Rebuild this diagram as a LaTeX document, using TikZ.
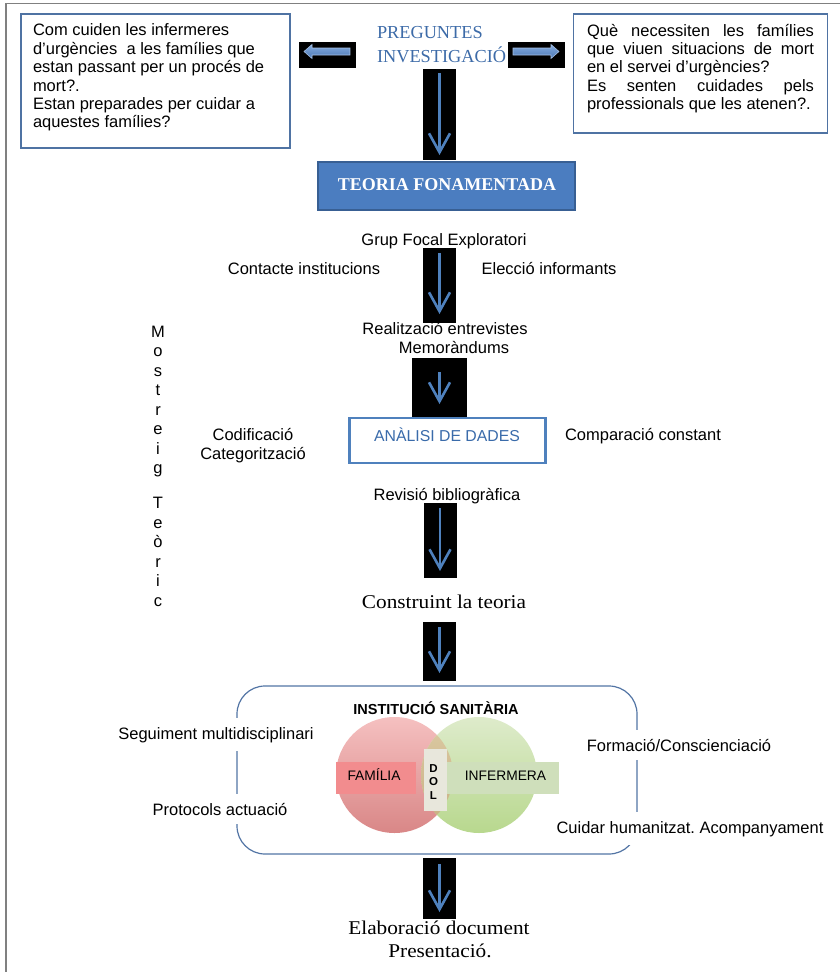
\documentclass[tikz,border=0pt]{standalone}
\usepackage{fontspec}
\setmainfont{Liberation Sans}
\newfontfamily\capserif{Liberation Serif}
\newfontfamily\wideserif{Liberation Serif}[FakeStretch=1.09]
\usetikzlibrary{arrows.meta}
\frenchspacing

\definecolor{framegray}{HTML}{808080}
\definecolor{boxblue}{HTML}{4F73A3}
\definecolor{pregblue}{HTML}{3D6BA8}
\definecolor{teoriafill}{HTML}{4B7DC0}
\definecolor{teoriaborder}{HTML}{385F93}
\definecolor{analisiblue}{HTML}{4F81BD}
\definecolor{analisitext}{HTML}{3A6BAA}
\definecolor{arrowblue}{HTML}{4F81BD}
\definecolor{blocktop}{HTML}{86ABDD}
\definecolor{blockbot}{HTML}{4A78B6}
\definecolor{blockedge}{HTML}{A8C2E6}
\definecolor{roundblue}{HTML}{5274A4}
\definecolor{redtop}{HTML}{F5C0C0}
\definecolor{redbot}{HTML}{D98787}
\definecolor{greentop}{HTML}{DEEBCB}
\definecolor{greenbot}{HTML}{B8D88E}
\definecolor{laptop}{HTML}{DCCBA4}
\definecolor{lapbot}{HTML}{C7AD80}
\definecolor{famfill}{HTML}{F28C8E}
\definecolor{inffill}{HTML}{CFDFBB}
\definecolor{dolfill}{HTML}{E8E7DC}

\begin{document}
\begin{tikzpicture}[x=1pt,y=-1pt,
  every node/.style={inner sep=0pt, outer sep=0pt},
  txt/.style={font=\fontsize{16.5}{18.4}\selectfont, anchor=base},
  sertxt/.style={font=\wideserif\fontsize{19.5}{22}\selectfont, anchor=base},
  qbox/.style={draw=boxblue, line width=1.3pt},
  blk/.style={fill=black, minimum width=33pt},
  barrow/.style={draw=arrowblue, line width=2.6pt, -{Straight Barb[length=19pt,width=21pt]}},
  blockarrow/.style={top color=blocktop, bottom color=blockbot, draw=blockedge, line width=0.6pt},
  cover/.style={fill=white, inner xsep=2pt, inner ysep=9pt},
  lbl/.style={font=\fontsize{13.8}{15}\selectfont, anchor=base},
  dolt/.style={font=\bfseries\fontsize{11.5}{13}\selectfont, anchor=base}]

\useasboundingbox (0,0) rectangle (840,972);

% page frame (top and left edges)
\draw[framegray, line width=1.6pt] (6,972) -- (6,3.5) -- (840,3.5);

% research questions
\node[qbox, minimum width=269pt, minimum height=134pt] (qleft) at (155.5,81) {};
\node[font=\fontsize{16.5}{18.4}\selectfont, anchor=north west, align=left] (qlt) at (33,24)
  {Com cuiden les infermeres\\d’urgències\ \ a les famílies que\\estan passant per un procés de\\mort?.\\Estan preparades per cuidar a\\aquestes famílies?};
\node[qbox, minimum width=254pt, minimum height=119pt] (qright) at (700.5,73.5) {};
\node[font=\fontsize{16.5}{18.4}\selectfont, anchor=north west, align=left] (qrt) at (587,24)
  {\makebox[227pt][s]{Què necessiten les famílies}\\
   \makebox[227pt][s]{que viuen situacions de mort}\\
   en el servei d’urgències?\\
   \makebox[227pt][s]{Es senten cuidades pels}\\
   professionals que les atenen?.};

\node[font=\capserif\fontsize{18.3}{22}\selectfont, text=pregblue, anchor=base west] (preg1) at (377,38) {PREGUNTES};
\node[font=\capserif\fontsize{18.3}{22}\selectfont, text=pregblue, anchor=base west] (preg2) at (377,62) {INVESTIGACIÓ};

% side block arrows
\node[fill=black, minimum width=57pt, minimum height=26pt] (la) at (327.5,55) {};
\node[fill=black, minimum width=57pt, minimum height=26pt] (ra) at (536.5,55) {};
\path[blockarrow, shift={(la.center)}]
  (22.5,-7) -- (-15.5,-7) -- (-15.5,-10.5) -- (-23.5,-3.5) -- (-15.5,3.5) -- (-15.5,0) -- (22.5,0) -- cycle;
\path[blockarrow, shift={(ra.center)}]
  (-23.5,-7) -- (14.5,-7) -- (14.5,-10.5) -- (22.5,-3.5) -- (14.5,3.5) -- (14.5,0) -- (-23.5,0) -- cycle;

% down arrows in black boxes
\node[blk, minimum height=91pt] (d1) at (439.5,114.5) {};
\draw[barrow] ([yshift=-4pt]d1.north) -- ([yshift=5pt]d1.south);

% grounded theory
\node[draw=teoriaborder, line width=2pt, fill=teoriafill, minimum width=257pt, minimum height=48pt] (teoria) at (446.5,186) {};
\node[font=\capserif\bfseries\fontsize{18}{20}\selectfont, text=white, anchor=base] (teoriat) at (447,190) {TEORIA FONAMENTADA};

\node[txt] (grup) at (444,245) {Grup Focal Exploratori};
\node[txt] (contacte) at (304,274) {Contacte institucions};
\node[txt] (eleccio) at (549,274) {Elecció informants};
\node[blk, minimum height=75pt] (d2) at (439.5,285.5) {};
\draw[barrow] ([yshift=-5pt]d2.north) -- ([yshift=9pt]d2.south);

\node[txt] (realit) at (445,334) {Realització entrevistes};
\node[txt] (memo) at (454,353) {Memoràndums};
\node[blk, minimum width=55pt, minimum height=59pt] (d3) at (439.5,387.5) {};
\draw[barrow] ([yshift=-14pt]d3.north) -- ([yshift=13pt]d3.south);

% data analysis
\node[draw=analisiblue, line width=2.5pt, fill=white, minimum width=196pt, minimum height=45pt] (analisi) at (447.5,440.5) {};
\node[font=\fontsize{15.8}{17}\selectfont, text=analisitext, anchor=base] (analisit) at (447,441.5) {ANÀLISI DE DADES};
\node[txt] (codif) at (253,440) {Codificació};
\node[txt] (categ) at (253,459) {Categorització};
\node[txt] (compar) at (643,440) {Comparació constant};
\node[txt] (revisio) at (447,500) {Revisió bibliogràfica};

\node[blk, minimum height=75pt] (d4) at (440,540.5) {};
\draw[barrow] ([yshift=-5pt]d4.north) -- ([yshift=7pt]d4.south);

% theoretical sampling, written vertically
\foreach \ch/\yy [count=\i] in {M/337,o/356.5,s/376,t/395.5,r/415,e/434.5,i/454,g/473.5,T/508.5,e/528,ò/547.5,r/567,i/586.5,c/606}
  \node[txt] (ms\i) at (158,\yy) {\ch};

\node[sertxt] (construint) at (444,608) {Construint la teoria};
\node[blk, minimum height=59pt] (d5) at (439.5,651.5) {};
\draw[barrow] ([yshift=-5pt]d5.north) -- ([yshift=8pt]d5.south);

% health institution
\node[draw=roundblue, line width=1.2pt, rounded corners=28pt, minimum width=400pt, minimum height=168pt] (inst) at (437,770) {};
\node[font=\bfseries\fontsize{14.5}{16}\selectfont, anchor=base] (instt) at (436,714) {INSTITUCIÓ SANITÀRIA};

\path[top color=redtop, bottom color=redbot] (394.5,775) ellipse [x radius=58.5, y radius=58];
\path[top color=greentop, bottom color=greenbot] (479,775) ellipse [x radius=58, y radius=58];
\begin{scope}
  \clip (394.5,775) ellipse [x radius=58.5, y radius=58];
  \path[top color=laptop, bottom color=lapbot] (479,775) ellipse [x radius=58, y radius=58];
\end{scope}

\node[fill=famfill, minimum width=80pt, minimum height=32pt] (fam) at (376,778) {};
\node[lbl] (famt) at (374,780) {FAMÍLIA};
\node[fill=inffill, minimum width=112pt, minimum height=32pt] (inf) at (503,778) {};
\node[lbl] (inft) at (505.5,780) {INFERMERA};
\node[fill=dolfill, minimum width=23pt, minimum height=62pt] (dol) at (435.5,780) {};
\node[dolt] (dol1) at (433.5,772) {D};
\node[dolt] (dol2) at (433.5,785.5) {O};
\node[dolt] (dol3) at (433.5,799) {L};

\node[txt, cover] (seg) at (216,739) {Seguiment multidisciplinari};
\node[txt, cover] (prot) at (220,815) {Protocols actuació};
\node[txt, cover] (form) at (679,751) {Formació/Conscienciació};
\node[txt, cover] (cuidar) at (690,833) {Cuidar humanitzat. Acompanyament};

\node[blk, minimum height=61pt] (d6) at (439.5,888.5) {};
\draw[barrow] ([yshift=-6pt]d6.north) -- ([yshift=7pt]d6.south);

\node[sertxt] (elab) at (439,934) {Elaboració document};
\node[sertxt] (pres) at (440,957) {Presentació.};

\end{tikzpicture}
\end{document}
